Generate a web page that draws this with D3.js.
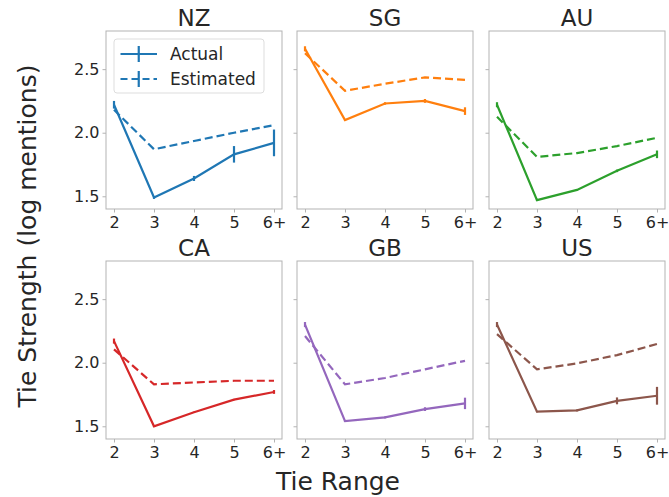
<!DOCTYPE html>
<html>
<head>
<meta charset="utf-8">
<script src="https://cdn.jsdelivr.net/npm/d3@7"></script>
<style>
  html, body { margin: 0; padding: 0; background: #fff; }
  text { font-family: "DejaVu Sans", sans-serif; fill: #262626; }
</style>
</head>
<body>
<svg id="chart" width="669" height="497"></svg>
<script>
// ---- data ----
const categories = ["2", "3", "4", "5", "6+"];
const countries = ["NZ", "SG", "AU", "CA", "GB", "US"];
const colors = ["#1f77b4", "#ff7f0e", "#2ca02c", "#d62728", "#9467bd", "#8c564b"];
const yTicks = [1.5, 2.0, 2.5];

const actualNZ = [2.22, 1.49, 1.64, 1.83, 1.92];
const actualSG = [2.66, 2.10, 2.23, 2.25, 2.17];
const actualAU = [2.22, 1.47, 1.55, 1.70, 1.83];
const actualCA = [2.17, 1.50, 1.61, 1.71, 1.77];
const actualGB = [2.30, 1.54, 1.57, 1.635, 1.68];
const actualUS = [2.30, 1.615, 1.625, 1.70, 1.74];

const actualErrNZ = [0.03, 0.01, 0.02, 0.065, 0.105];
const actualErrSG = [0.02, 0.005, 0.01, 0.015, 0.03];
const actualErrAU = [0.02, 0.005, 0.005, 0.01, 0.03];
const actualErrCA = [0.02, 0.005, 0.005, 0.005, 0.015];
const actualErrGB = [0.02, 0.005, 0.008, 0.015, 0.045];
const actualErrUS = [0.02, 0.005, 0.008, 0.027, 0.07];

const estNZ = [2.18, 1.87, 1.935, 2.0, 2.06];
const estSG = [2.625, 2.33, 2.385, 2.435, 2.415];
const estAU = [2.125, 1.81, 1.84, 1.895, 1.96];
const estCA = [2.105, 1.83, 1.845, 1.858, 1.858];
const estGB = [2.21, 1.83, 1.88, 1.948, 2.015];
const estUS = [2.225, 1.948, 1.995, 2.06, 2.147];

const actual = [actualNZ, actualSG, actualAU, actualCA, actualGB, actualUS];
const actualErr = [actualErrNZ, actualErrSG, actualErrAU, actualErrCA, actualErrGB, actualErrUS];
const estimated = [estNZ, estSG, estAU, estCA, estGB, estUS];

// ---- layout ----
const svg = d3.select("#chart");
const colX = [106, 297, 489];
const rowY = [31, 261];
const pw = 176, ph = 178;
const spine = "#b3b3b3";

const x = d3.scalePoint().domain(categories).range([8, pw - 8]);
const y = d3.scaleLinear().domain([1.40, 2.80]).range([ph, 0]);

countries.forEach((c, i) => {
  const col = i % 3, row = Math.floor(i / 3);
  const g = svg.append("g").attr("transform", `translate(${colX[col]},${rowY[row]})`);
  const color = colors[i];

  // axes
  const xa = g.append("g").attr("transform", `translate(0,${ph})`)
    .call(d3.axisBottom(x).tickSizeOuter(0).tickSize(3.5).tickPadding(3));
  const ya = g.append("g")
    .call(d3.axisLeft(y).tickValues(yTicks).tickFormat(d3.format(".1f")).tickSizeOuter(0).tickSize(3.5).tickPadding(3));
  [xa, ya].forEach(a => {
    a.select(".domain").remove();
    a.selectAll(".tick line").attr("stroke", spine);
    a.selectAll(".tick text").style("font-size", "16px").attr("fill", "#262626")
      .style("font-family", "DejaVu Sans, sans-serif");
  });
  xa.selectAll(".tick text").attr("dy", "0.75em");
  if (col !== 0) ya.selectAll(".tick text").remove();

  // frame
  g.append("rect").attr("width", pw).attr("height", ph)
    .attr("fill", "none").attr("stroke", spine).attr("stroke-width", 1);

  // title
  g.append("text").attr("x", pw / 2).attr("y", -5).attr("text-anchor", "middle")
    .style("font-size", "23px").text(c);

  const line = d3.line().x((d, j) => x(categories[j])).y(d => y(d));

  // estimated (dashed)
  g.append("path").datum(estimated[i]).attr("d", line)
    .attr("fill", "none").attr("stroke", color).attr("stroke-width", 2.2)
    .attr("stroke-dasharray", "8,4");

  // actual (solid)
  g.append("path").datum(actual[i]).attr("d", line)
    .attr("fill", "none").attr("stroke", color).attr("stroke-width", 2.2);

  // error bars for actual
  g.selectAll(".err").data(actual[i]).enter().append("line")
    .attr("x1", (d, j) => x(categories[j])).attr("x2", (d, j) => x(categories[j]))
    .attr("y1", (d, j) => y(d - actualErr[i][j])).attr("y2", (d, j) => y(d + actualErr[i][j]))
    .attr("stroke", color).attr("stroke-width", 2.2);

  // legend on first panel
  if (i === 0) {
    const lg = g.append("g").attr("transform", "translate(8,8)");
    lg.append("rect").attr("width", 150).attr("height", 54).attr("rx", 3)
      .attr("fill", "#fff").attr("fill-opacity", 0.8).attr("stroke", "#dddddd");
    const items = [{ label: "Actual", dash: null, yy: 15 }, { label: "Estimated", dash: "8,4", yy: 40 }];
    items.forEach(it => {
      lg.append("line").attr("x1", 6.5).attr("x2", 43).attr("y1", it.yy).attr("y2", it.yy)
        .attr("stroke", color).attr("stroke-width", 2.2)
        .attr("stroke-dasharray", it.dash ? "7,4" : null);
      lg.append("line").attr("x1", 24.75).attr("x2", 24.75).attr("y1", it.yy - 8).attr("y2", it.yy + 8)
        .attr("stroke", color).attr("stroke-width", 2.2);
      lg.append("text").attr("x", 56).attr("y", it.yy).attr("dy", "0.35em")
        .style("font-size", "17px").text(it.label);
    });
  }
});

// axis labels
svg.append("text").attr("x", 338).attr("y", 490).attr("text-anchor", "middle")
  .style("font-size", "25px").text("Tie Range");
svg.append("text").attr("transform", "translate(36,236) rotate(-90)").attr("text-anchor", "middle")
  .style("font-size", "25px").text("Tie Strength (log mentions)");
</script>
</body>
</html>
